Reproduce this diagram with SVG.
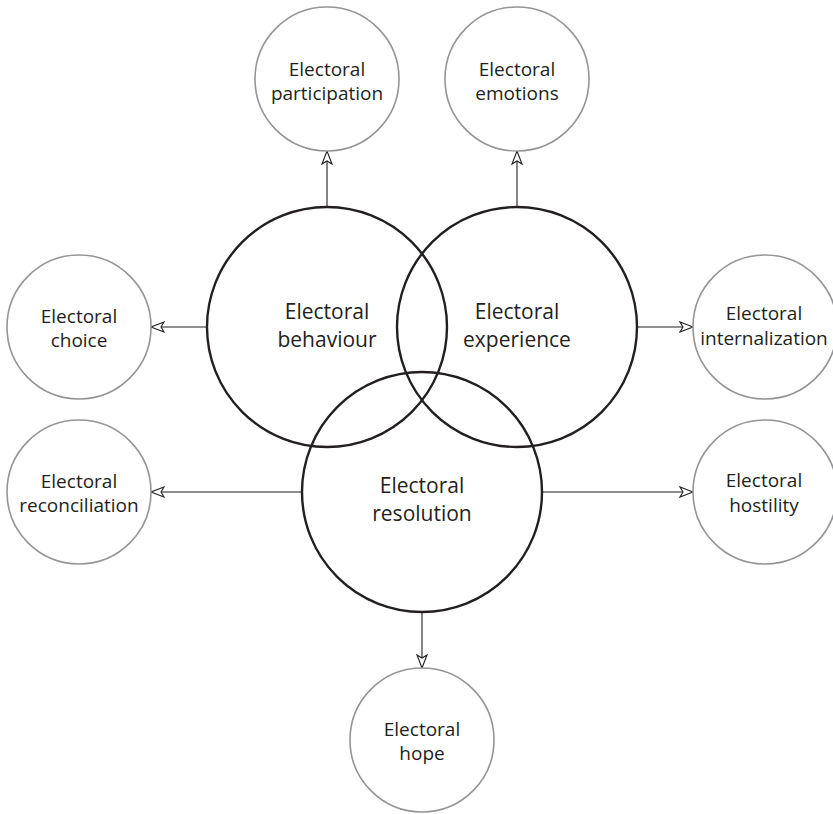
<svg xmlns="http://www.w3.org/2000/svg" width="833" height="814" viewBox="0 0 833 814">
<style>
.big{fill:none;stroke:#231f20;stroke-width:2.4}
.small{fill:#fff;stroke:#939598;stroke-width:1.6}
.conn{stroke:#231f20;stroke-width:1.1;fill:none}
text{font-family:"Open Sans","Noto Sans","Liberation Sans",sans-serif;fill:#231f20;text-anchor:middle}
.bt{font-size:21px}
.st{font-size:19px}
</style>
<defs>
<marker id="arr" viewBox="0 0 16 12" refX="14.5" refY="6" markerWidth="16" markerHeight="12" markerUnits="userSpaceOnUse" orient="auto">
<path d="M14.5,6 L1.5,1 L4.5,6 L1.5,11 Z" fill="#fff" stroke="#231f20" stroke-width="1.1" stroke-linejoin="miter"/>
</marker>
</defs>
<rect width="833" height="814" fill="#fff"/>
<g id="connectors">
<line class="conn" x1="327" y1="207" x2="327" y2="151" marker-end="url(#arr)"/>
<line class="conn" x1="517" y1="207" x2="517" y2="151" marker-end="url(#arr)"/>
<line class="conn" x1="207" y1="327" x2="151" y2="327" marker-end="url(#arr)"/>
<line class="conn" x1="637" y1="327" x2="693" y2="327" marker-end="url(#arr)"/>
<line class="conn" x1="302" y1="492" x2="151" y2="492" marker-end="url(#arr)"/>
<line class="conn" x1="542" y1="492" x2="693" y2="492" marker-end="url(#arr)"/>
<line class="conn" x1="422" y1="612" x2="422" y2="668" marker-end="url(#arr)"/>
</g>
<g id="behaviour">
<circle class="big" cx="327" cy="327" r="120"/>
<text class="bt" x="327" y="319">Electoral</text>
<text class="bt" x="327" y="347">behaviour</text>
</g>
<g id="experience">
<circle class="big" cx="517" cy="327" r="120"/>
<text class="bt" x="517" y="319">Electoral</text>
<text class="bt" x="517" y="347">experience</text>
</g>
<g id="resolution">
<circle class="big" cx="422" cy="492" r="120"/>
<text class="bt" x="422" y="493">Electoral</text>
<text class="bt" x="422" y="521">resolution</text>
</g>
<g id="participation">
<circle class="small" cx="327" cy="79" r="72"/>
<text class="st" x="327" y="76">Electoral</text>
<text class="st" x="327" y="100">participation</text>
</g>
<g id="emotions">
<circle class="small" cx="517" cy="79" r="72"/>
<text class="st" x="517" y="76">Electoral</text>
<text class="st" x="517" y="100">emotions</text>
</g>
<g id="choice">
<circle class="small" cx="79" cy="327" r="72"/>
<text class="st" x="79" y="323">Electoral</text>
<text class="st" x="79" y="347">choice</text>
</g>
<g id="internalization">
<circle class="small" cx="765" cy="327" r="72"/>
<text class="st" x="764" y="320">Electoral</text>
<text class="st" x="764" y="345">internalization</text>
</g>
<g id="reconciliation">
<circle class="small" cx="79" cy="492" r="72"/>
<text class="st" x="79" y="488">Electoral</text>
<text class="st" x="79" y="512">reconciliation</text>
</g>
<g id="hostility">
<circle class="small" cx="765" cy="492" r="72"/>
<text class="st" x="764" y="487">Electoral</text>
<text class="st" x="764" y="512">hostility</text>
</g>
<g id="hope">
<circle class="small" cx="422" cy="740" r="72"/>
<text class="st" x="422" y="736">Electoral</text>
<text class="st" x="422" y="760">hope</text>
</g>
</svg>
